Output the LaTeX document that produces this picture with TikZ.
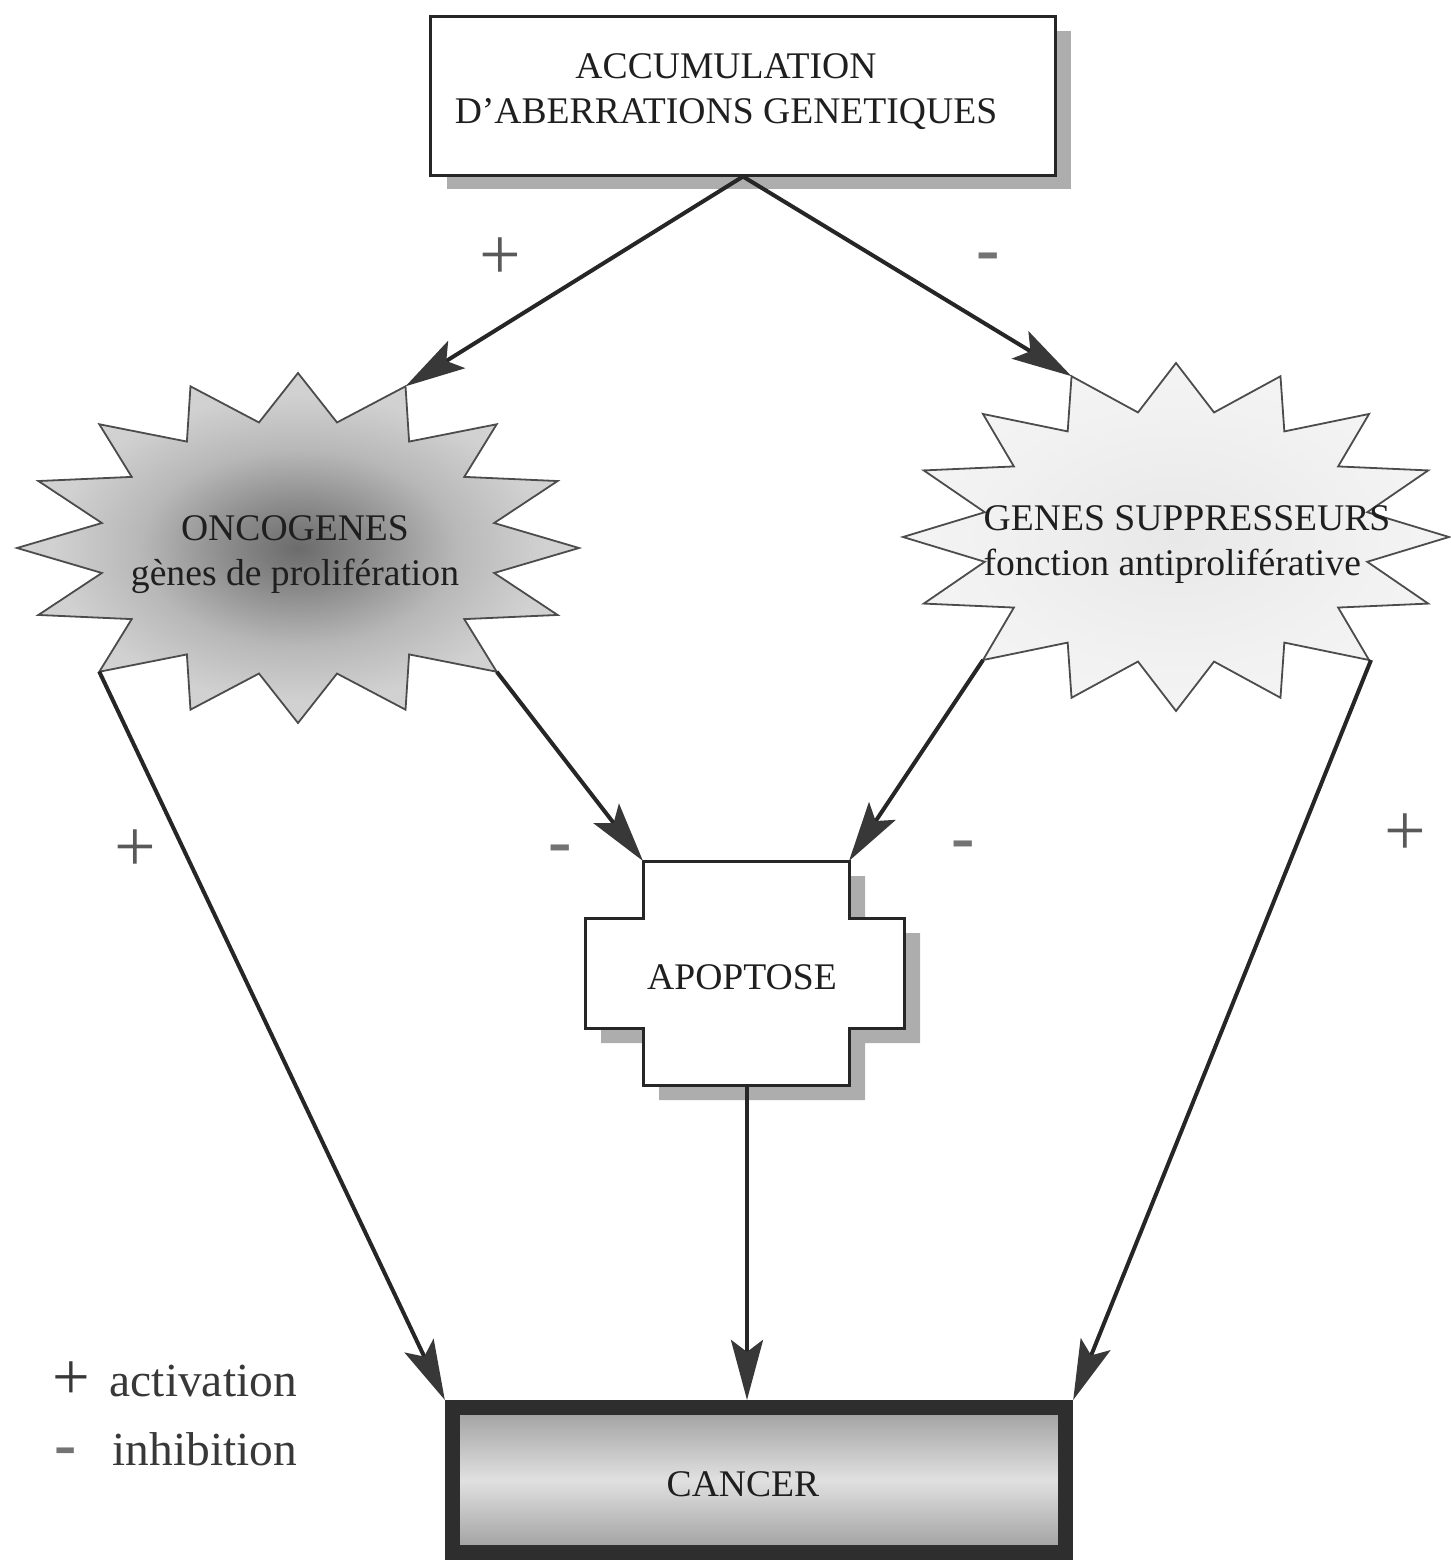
\documentclass[tikz,border=0pt]{standalone}
\usepackage{fontspec}
\setmainfont{Liberation Serif}
\usetikzlibrary{arrows.meta}
\definecolor{shadowgray}{gray}{0.68}
\pgfdeclareradialshading{oncshade}{\pgfpoint{0bp}{0bp}}{color(0bp)=(black!58); color(6bp)=(black!46); color(14bp)=(black!28); color(22bp)=(black!18); color(50bp)=(black!15)}
\pgfdeclareradialshading{supshade}{\pgfpoint{0bp}{0bp}}{color(0bp)=(black!9); color(20bp)=(black!5); color(50bp)=(black!3)}
\begin{document}
\begin{tikzpicture}[x=0.01cm, y=-0.01cm,
  lbl/.style={font=\fontsize{10.7}{12.8}\selectfont, text=black!88, inner sep=0pt},
  boxline/.style={draw=black!85, line width=0.03cm},
  starline/.style={draw=black!70, line width=0.018cm},
  conn/.style={draw=black!85, line width=0.04cm, -{Stealth[length=0.6cm, width=0.32cm, inset=0.12cm, color=black!78]}},
  plussign/.style={text=black!65, font=\fontsize{21}{21}\selectfont, inner sep=0pt},
  minussign/.style={text=black!55, font=\fontsize{20}{20}\selectfont\bfseries, inner sep=0pt},
  legtxt/.style={text=black!78, font=\fontsize{13.5}{15}\selectfont, inner sep=0pt}]
\useasboundingbox (0,0) rectangle (1450,1561);

% ---- top box
\fill[shadowgray] (447,31) rectangle (1071,189);
\node[boxline, fill=white, minimum width=6.24cm, minimum height=1.58cm] (acc) at (743,96) {};
\node[lbl, align=center] (acctxt) at (726,92) {ACCUMULATION\\D’ABERRATIONS GENETIQUES};

% ---- oncogenes star
\path[starline, shading=oncshade] plot[samples at={0,...,31}]
  ({298+(281-81*mod(\x,2))*cos(90+11.25*\x)}, {548-(175-47*mod(\x,2))*sin(90+11.25*\x)}) -- cycle;
\coordinate (onc-ne) at (405.5,386.3);
\coordinate (onc-sw) at (99.3,671.7);
\coordinate (onc-se) at (496.7,671.7);
\node[lbl, align=center] (onc) at (295,555) {ONCOGENES\\gènes de prolifération};

% ---- suppressor star
\path[starline, shading=supshade] plot[samples at={0,...,31}]
  ({1176+(273-78*mod(\x,2))*cos(90+11.25*\x)}, {537-(174-47*mod(\x,2))*sin(90+11.25*\x)}) -- cycle;
\coordinate (sup-nw) at (1071.5,376.2);
\coordinate (sup-sw) at (983,660);
\coordinate (sup-se) at (1371,660);
\node[lbl, align=left, anchor=west] (sup) at (983,545) {GENES SUPPRESSEURS\\fonction antiproliférative};

% ---- apoptose
\fill[shadowgray, shift={(16,15)}] (643,861) -- (849,861) -- (849,918) -- (904,918) -- (904,1028) -- (849,1028) -- (849,1085) -- (643,1085) -- (643,1028) -- (585,1028) -- (585,918) -- (643,918) -- cycle;
\path[boxline, fill=white] (643,861) -- (849,861) -- (849,918) -- (904,918) -- (904,1028) -- (849,1028) -- (849,1085) -- (643,1085) -- (643,1028) -- (585,1028) -- (585,918) -- (643,918) -- cycle;
\coordinate (apo-nw) at (643,861);
\coordinate (apo-ne) at (849,861);
\coordinate (apo-s) at (747,1085);
\node[lbl] (apo) at (742,977) {APOPTOSE};

% ---- cancer
\node[draw=black!82, line width=0.15cm, top color=black!38, bottom color=black!38, middle color=black!12,
      minimum width=6.13cm, minimum height=1.45cm, inner sep=0pt] (cancer) at (759,1480) {};
\node[lbl] (cancertxt) at (743,1484) {CANCER};

% ---- connectors
\draw[conn] (acc.south) -- (onc-ne);
\draw[conn] (acc.south) -- (sup-nw);
\draw[conn] (onc-se) -- (apo-nw);
\draw[conn] (sup-sw) -- (apo-ne);
\draw[conn] (onc-sw) -- (cancer.north west);
\draw[conn] (sup-se) -- (cancer.north east);
\draw[conn] (apo-s) -- (apo-s |- cancer.north);

% ---- signs
\node[plussign] (p1) at (500,259) {+};
\node[minussign] (m1) at (988,263) {-};
\node[plussign] (p2) at (135,851) {+};
\node[minussign] (m2) at (560,855) {-};
\node[minussign] (m3) at (963,851) {-};
\node[plussign] (p3) at (1405,835) {+};

% ---- legend
\node[legtxt, font=\fontsize{19}{19}\selectfont] (lp) at (71,1381) {+};
\node[legtxt, anchor=west] (la) at (109,1381) {activation};
\node[legtxt, font=\fontsize{19}{19}\selectfont\bfseries, text=black!55] (lm) at (66,1457) {-};
\node[legtxt, anchor=west] (li) at (112,1449) {inhibition};
\end{tikzpicture}
\end{document}
